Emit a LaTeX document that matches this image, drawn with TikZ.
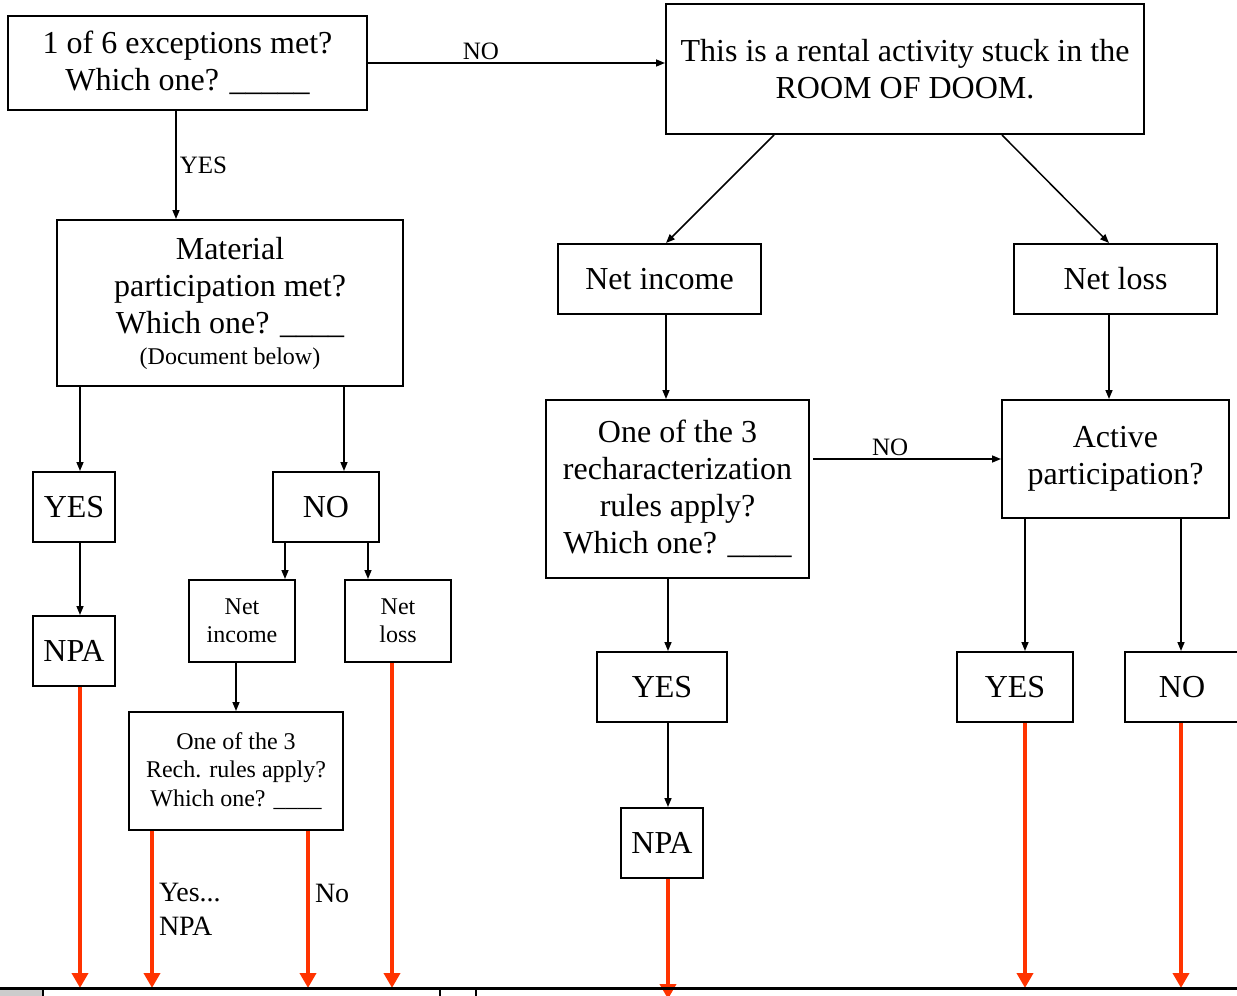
\documentclass[tikz,border=0pt]{standalone}
\usepackage{fontspec}
\setmainfont{Liberation Serif}
\usetikzlibrary{arrows.meta}
\definecolor{flowred}{RGB}{255,51,0}
\tikzset{
  box/.style={draw,line width=2pt,inner sep=0pt,align=center,font=\fontsize{32}{37}\selectfont},
  sbox/.style={box,font=\fontsize{24}{28.5}\selectfont},
  arr/.style={line width=1.5pt,-{Triangle[length=9pt,width=7pt]}},
  redarr/.style={flowred,line width=4pt,-{Triangle[length=15pt,width=16pt]}},
  lbl/.style={font=\fontsize{25}{30}\selectfont,inner sep=3pt},
  redlbl/.style={black,font=\fontsize{28}{34}\selectfont,inner sep=5pt,align=left}
}
\begin{document}
\begin{tikzpicture}[x=1pt,y=-1pt]
                      \useasboundingbox (0,0) rectangle (1237,996);
                      \clip (0,0) rectangle (1237,996);
                      \node[box,minimum width=359,minimum height=94](exc)at(187.5,63){1 of 6 exceptions met?\\Which one? \_\_\_\_\_};
                      \node[box,minimum width=478,minimum height=130](doom)at(905,69){This is a rental activity stuck in the\\ROOM OF DOOM.};
                      \node[box,minimum width=346,minimum height=166](mat)at(230,303){Material\\participation met?\\Which one? \_\_\_\_\\[-6pt]{\fontsize{24}{26}\selectfont (Document below)}};
                      \node[box,minimum width=82,minimum height=70](myes)at(74,507){YES};
                      \node[box,minimum width=106,minimum height=70](mno)at(326,507){NO};
                      \node[box,minimum width=82,minimum height=70](mnpa)at(74,651){NPA};
                      \node[sbox,minimum width=106,minimum height=82](sinc)at(242,621){Net\\income};
                      \node[sbox,minimum width=106,minimum height=82](sloss)at(398,621){Net\\loss};
                      \node[sbox,minimum width=214,minimum height=118](srech)at(236,771){One of the 3\\Rech. rules apply?\\Which one? \_\_\_\_};
                      \node[box,minimum width=203,minimum height=70](rinc)at(659.5,279){Net income};
                      \node[box,minimum width=203,minimum height=70](rloss)at(1115.5,279){Net loss};
                      \node[box,minimum width=263,minimum height=178](rech)at(677.5,489){One of the 3\\recharacterization\\rules apply?\\Which one? \_\_\_\_};
                      \node[box,minimum width=227,minimum height=118](act)at(1115.5,459){Active\\participation?};
                      \node[box,minimum width=130,minimum height=70](ryes)at(662,687){YES};
                      \node[box,minimum width=82,minimum height=70](rnpa)at(662,843){NPA};
                      \node[box,minimum width=116,minimum height=70](ayes)at(1015,687){YES};
                      \node[box,minimum width=114,minimum height=70](ano)at(1182,687){NO};
                      \coordinate (tbl) at (0,988);
                      \draw[arr] (exc.east) -- (exc.east -| doom.west) node[lbl,pos=.38,above=0pt]{NO};
                      \draw[arr] ([xshift=-11.5]exc.south) -- ([xshift=-11.5]exc.south |- mat.north) node[lbl,midway,right]{YES};
                      \draw[arr] ([xshift=6]myes.north |- mat.south) -- ([xshift=6]myes.north);
                      \draw[arr] ([xshift=18]mno.north |- mat.south) -- ([xshift=18]mno.north);
                      \draw[arr] ([xshift=6]myes.south) -- ([xshift=6]mnpa.north);
                      \draw[arr] ([xshift=43]sinc.north |- mno.south) -- ([xshift=43]sinc.north);
                      \draw[arr] ([xshift=-30]sloss.north |- mno.south) -- ([xshift=-30]sloss.north);
                      \draw[arr] (srech.north |- sinc.south) -- (srech.north);
                      \draw[arr] ([xshift=-131]doom.south) -- ([xshift=6.5]rinc.north);
                      \draw[arr] ([xshift=97]doom.south) -- ([xshift=-6.5]rloss.north);
                      \draw[arr] ([xshift=6.5]rinc.south) -- ([xshift=6.5]rinc.south |- rech.north);
                      \draw[arr] ([xshift=-6.5]rloss.south) -- ([xshift=-6.5]rloss.south |- act.north);
                      \draw[arr] ([xshift=3]act.west -| rech.east) -- (act.west) node[lbl,pos=.41,above=0pt]{NO};
                      \draw[arr] ([xshift=6]ryes.north |- rech.south) -- ([xshift=6]ryes.north);
                      \draw[arr] ([xshift=6]ryes.south) -- ([xshift=6]rnpa.north);
                      \draw[arr] ([xshift=10]ayes.north |- act.south) -- ([xshift=10]ayes.north);
                      \draw[arr] ([xshift=-1]ano.north |- act.south) -- ([xshift=-1]ano.north);
                      \draw[redarr] ([xshift=6]mnpa.south) -- ([xshift=6]mnpa.south |- tbl);
                      \draw[redarr] ([xshift=-84]srech.south) -- ([xshift=-84]srech.south |- tbl) node[redlbl,midway,right]{Yes...\\NPA};
                      \draw[redarr] ([xshift=72]srech.south) -- ([xshift=72]srech.south |- tbl) node[redlbl,pos=.4,right]{No};
                      \draw[redarr] ([xshift=-6]sloss.south) -- ([xshift=-6]sloss.south |- tbl);
                      \draw[redarr] ([xshift=6]rnpa.south) -- ([xshift=6,yshift=-11]rnpa.south |- tbl);
                      \draw[redarr] ([xshift=10]ayes.south) -- ([xshift=10]ayes.south |- tbl);
                      \draw[redarr] ([xshift=-1]ano.south) -- ([xshift=-1]ano.south |- tbl);
                      \fill[black!20] (0,990) rectangle (42,996);
                      \draw[line width=2.5pt] (tbl) ++(0,0.5) -- (1237,988.5);
                      \foreach \x in {43,440,476} \draw[line width=2pt] (\x,988) -- (\x,996);
                  \end{tikzpicture}
\end{document}
